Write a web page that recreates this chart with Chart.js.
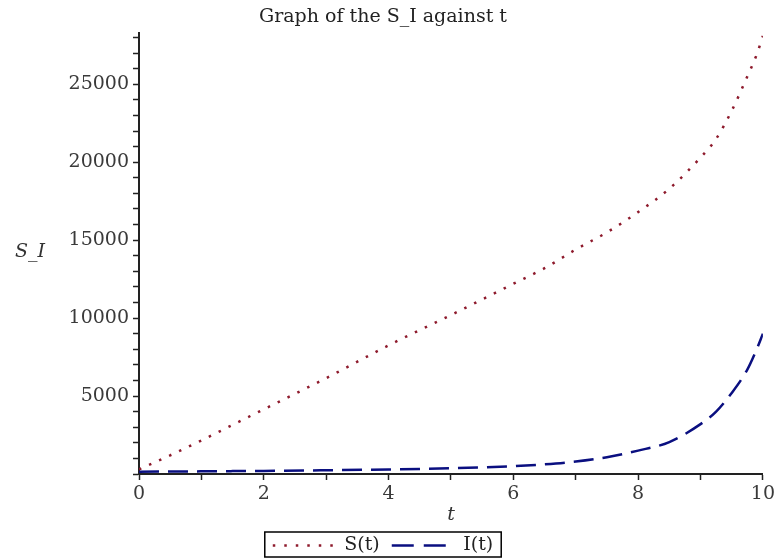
<!DOCTYPE html>
<html lang="en">
<head>
  <meta charset="UTF-8">
  <title>Graph of the S_I against t</title>
  <style>
    html, body { margin: 0; padding: 0; background: #fff; }
    #wrap { width: 778px; height: 558px; }
  </style>
</head>
<body>
  <script src="https://cdn.jsdelivr.net/npm/chart.js"></script>
  <div id="wrap"><canvas id="siChart"></canvas></div>
  <script>
    // valores
    const tValues = [0, 0.5, 1, 1.5, 2, 3, 4, 5, 6, 6.5, 7, 7.5, 8, 8.5, 9, 9.25, 9.5, 9.75, 9.9, 10];
    const sValues = [300, 1200, 2150, 3150, 4150, 6150, 8250, 10200, 12200, 13200, 14400, 15500, 16800, 18300, 20300, 21500, 23300, 25500, 26900, 28100];
    const iValues = [150, 160, 170, 185, 200, 240, 290, 370, 500, 620, 800, 1080, 1500, 2050, 3200, 4000, 5200, 6700, 8000, 9000];
    const xTickLabels = [0, 2, 4, 6, 8, 10];
    const yTickLabels = [5000, 10000, 15000, 20000, 25000];

    const serif = 'DejaVu Serif';

    // etiquetas de ejes y borde de la leyenda (estilo Maple)
    const extras = {
      id: 'extras',
      afterDraw(chart) {
        const ctx = chart.ctx;
        const area = chart.chartArea;
        ctx.save();
        ctx.fillStyle = '#333';
        ctx.font = 'italic 19px "' + serif + '"';
        ctx.textAlign = 'center';
        ctx.textBaseline = 'middle';
        ctx.fillText('S_I', 30, 252);
        ctx.fillText('t', (area.left + area.right) / 2, 515);

        const boxes = chart.legend.legendHitBoxes;
        if (boxes && boxes.length) {
          const left = Math.min(...boxes.map(b => b.left)) - 8;
          const right = Math.max(...boxes.map(b => b.left + b.width)) + 8;
          ctx.strokeStyle = '#000';
          ctx.lineWidth = 1.5;
          ctx.strokeRect(left, 532, right - left, 25);
        }
        ctx.restore();
      }
    };

    const ctx = document.getElementById('siChart').getContext('2d');
    const siChart = new Chart(ctx, {
      type: 'line',
      data: {
        datasets: [{
          label: 'S(t)',
          data: tValues.map((t, i) => ({ x: t, y: sValues[i] })),
          borderColor: '#8e1a2c',
          borderWidth: 2.5,
          borderDash: [2.5, 8.5],
          pointRadius: 0,
          cubicInterpolationMode: 'monotone',
          fill: false
        }, {
          label: 'I(t)',
          data: tValues.map((t, i) => ({ x: t, y: iValues[i] })),
          borderColor: '#0a0f80',
          borderWidth: 2.5,
          borderDash: [20, 9],
          pointRadius: 0,
          cubicInterpolationMode: 'monotone',
          fill: false
        }]
      },
      options: {
        responsive: true,
        maintainAspectRatio: false,
        animation: false,
        layout: { padding: { left: 0, right: 12, top: 2, bottom: -7 } },
        scales: {
          x: {
            type: 'linear',
            min: 0,
            max: 10,
            afterFit: scale => { scale.height = 50; },
            border: { display: true, color: '#222', width: 2 },
            grid: { drawOnChartArea: false, drawTicks: true, tickLength: 6, color: '#222', tickWidth: 1.5 },
            ticks: {
              stepSize: 1,
              autoSkip: false,
              maxRotation: 0,
              color: '#3a3a3a',
              font: { family: serif, size: 19 },
              padding: 3,
              callback: function (v) {
                const n = Math.round(Number(v));
                return xTickLabels.includes(n) && Math.abs(n - v) < 1e-6 ? String(n) : '';
              }
            }
          },
          y: {
            type: 'linear',
            min: 0,
            max: 28300,
            afterFit: scale => { scale.width = 139; },
            // marcas menores cada 1000, etiquetas solo en las principales
            afterBuildTicks: scale => {
              const ticks = [];
              for (let v = 0; v <= 28000; v += 1000) ticks.push({ value: v });
              scale.ticks = ticks;
            },
            border: { display: true, color: '#222', width: 2 },
            grid: { drawOnChartArea: false, drawTicks: true, tickLength: 6, color: '#222', tickWidth: 1.5 },
            ticks: {
              autoSkip: false,
              color: '#3a3a3a',
              font: { family: serif, size: 19 },
              padding: 4,
              callback: function (v) {
                const n = Math.round(Number(v));
                return yTickLabels.includes(n) ? String(n) : '';
              }
            }
          }
        },
        plugins: {
          title: {
            display: true,
            text: 'Graph of the S_I against t',
            color: '#222',
            font: { family: serif, size: 19, weight: 'normal' },
            padding: { top: 4, bottom: 4 },
            align: 'center'
          },
          legend: {
            position: 'bottom',
            labels: {
              usePointStyle: true,
              pointStyle: 'line',
              pointStyleWidth: 62,
              boxHeight: 19,
              color: '#222',
              font: { family: serif, size: 19 },
              padding: 12,
              generateLabels: function (chart) {
                const items = Chart.defaults.plugins.legend.labels.generateLabels(chart);
                items.forEach(item => {
                  const ds = chart.data.datasets[item.datasetIndex];
                  item.lineDash = item.datasetIndex === 0 ? [2.5, 9] : [22, 10];
                  item.strokeStyle = ds.borderColor;
                  item.lineWidth = 2.5;
                });
                return items;
              }
            }
          },
          tooltip: { enabled: false }
        }
      },
      plugins: [extras]
    });
  </script>
</body>
</html>
